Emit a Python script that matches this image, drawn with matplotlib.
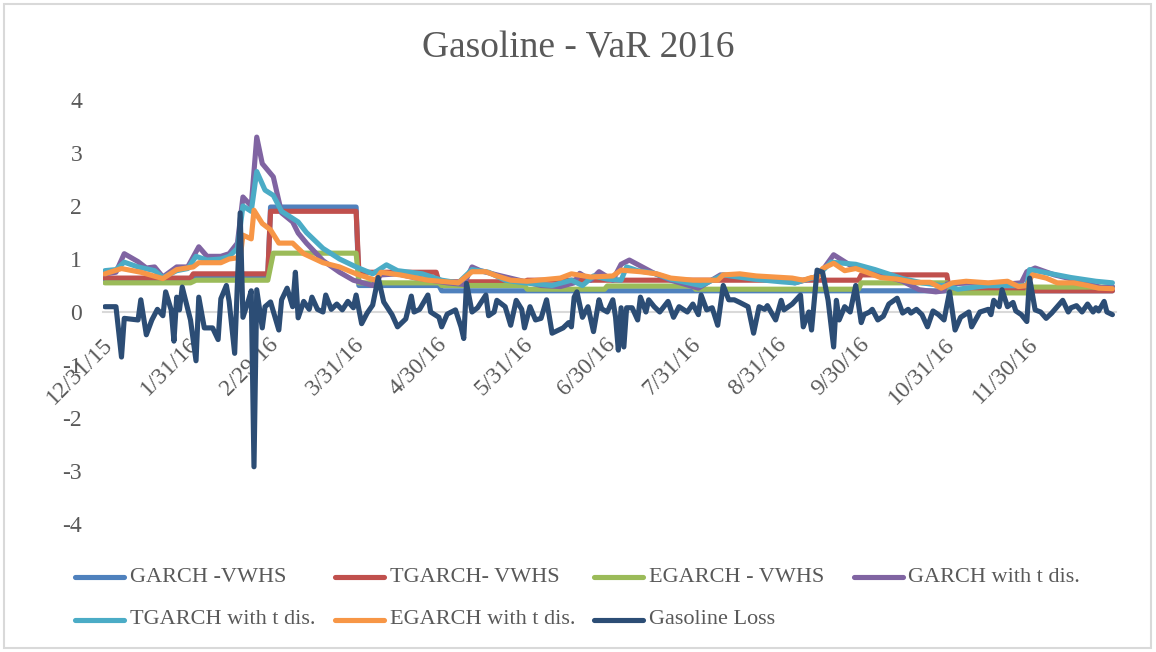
import matplotlib
matplotlib.use("Agg")
import matplotlib.pyplot as plt
import matplotlib.dates as mdates
from matplotlib.lines import Line2D
from matplotlib.patches import Rectangle
from matplotlib.transforms import ScaledTranslation
import pandas as pd

plt.rcParams['font.family'] = ['Liberation Serif', 'DejaVu Serif']

# %% Data (x = days after 12/31/15)
start = pd.Timestamp("2015-12-31")

series_names = ["GARCH -VWHS", "TGARCH- VWHS", "EGARCH - VWHS", "GARCH with t dis.",
                "TGARCH with t dis.", "EGARCH with t dis.", "Gasoline Loss"]
series_colors = ["#4F81BD", "#C0504D", "#9BBB59", "#8064A2",
                 "#4BACC6", "#F79646", "#2C4D75"]

garch_vwhs_day = [0, 31, 33, 59, 60, 91, 92, 121, 122, 365]
garch_vwhs = [0.62, 0.62, 0.68, 0.68, 1.98, 1.98, 0.50, 0.50, 0.40, 0.40]

tgarch_vwhs_day = [0, 31, 32, 59, 60, 91, 92, 120, 121, 152, 153, 273, 274, 305, 306, 365]
tgarch_vwhs = [0.64, 0.64, 0.72, 0.72, 1.90, 1.90, 0.75, 0.75, 0.57, 0.57, 0.60, 0.60,
               0.70, 0.70, 0.40, 0.40]

egarch_vwhs_day = [0, 31, 33, 59, 61, 91, 92, 121, 122, 152, 153, 181, 182, 213, 214,
                   273, 274, 305, 306, 334, 335, 365]
egarch_vwhs = [0.55, 0.55, 0.60, 0.60, 1.11, 1.11, 0.55, 0.55, 0.50, 0.50, 0.43, 0.43,
               0.49, 0.49, 0.43, 0.43, 0.55, 0.55, 0.36, 0.36, 0.47, 0.47]

garch_t_day = [0, 4, 7, 12, 15, 18, 21, 26, 30, 34,
               37, 42, 45, 48, 50, 53, 55, 57, 61, 64,
               68, 70, 73, 79, 85, 90, 97, 100, 106, 112,
               118, 124, 130, 133, 136, 142, 150, 158, 165, 170,
               172, 176, 179, 184, 187, 190, 199, 205, 215, 223,
               235, 245, 250, 257, 260, 264, 271, 275, 283, 289,
               295, 301, 304, 305, 315, 325, 332, 334, 337, 344,
               352, 361, 365]
garch_t = [0.72, 0.75, 1.10, 0.95, 0.83, 0.85, 0.66, 0.85, 0.85, 1.23,
           1.05, 1.05, 1.10, 1.30, 2.17, 2.00, 3.30, 2.80, 2.55, 1.87,
           1.70, 1.49, 1.30, 0.97, 0.75, 0.60, 0.50, 0.70, 0.72, 0.65,
           0.60, 0.55, 0.52, 0.85, 0.78, 0.70, 0.60, 0.50, 0.48, 0.55,
           0.73, 0.60, 0.76, 0.60, 0.90, 0.98, 0.73, 0.60, 0.45, 0.70,
           0.65, 0.60, 0.55, 0.65, 0.79, 1.08, 0.85, 0.80, 0.67, 0.58,
           0.42, 0.38, 0.40, 0.53, 0.55, 0.52, 0.55, 0.76, 0.83, 0.70,
           0.60, 0.46, 0.48]

tgarch_t_day = [0, 4, 7, 12, 18, 21, 26, 30, 33, 37,
                42, 45, 48, 50, 53, 55, 58, 61, 64, 70,
                73, 79, 85, 91, 97, 102, 106, 115, 122, 128,
                133, 139, 145, 152, 162, 169, 173, 177, 182, 187,
                189, 193, 199, 205, 214, 216, 224, 235, 245, 250,
                258, 263, 272, 279, 289, 296, 303, 305, 309, 320,
                334, 335, 340, 350, 359, 365]
tgarch_t = [0.78, 0.80, 0.94, 0.85, 0.78, 0.65, 0.78, 0.82, 1.05, 0.98,
            1.00, 1.05, 1.20, 2.00, 1.90, 2.65, 2.30, 2.20, 1.90, 1.70,
            1.50, 1.20, 1.00, 0.85, 0.72, 0.89, 0.78, 0.72, 0.60, 0.55,
            0.80, 0.75, 0.60, 0.55, 0.50, 0.60, 0.50, 0.68, 0.62, 0.60,
            0.85, 0.78, 0.73, 0.62, 0.52, 0.50, 0.70, 0.62, 0.57, 0.55,
            0.67, 0.94, 0.90, 0.80, 0.63, 0.55, 0.50, 0.50, 0.43, 0.50,
            0.50, 0.80, 0.75, 0.65, 0.58, 0.55]

egarch_t_day = [0, 6, 13, 21, 26, 32, 34, 42, 45, 49,
                50, 53, 54, 57, 60, 63, 68, 72, 79, 85,
                91, 98, 100, 107, 117, 128, 133, 138, 142, 147,
                153, 165, 169, 176, 184, 187, 194, 200, 205, 213,
                222, 224, 230, 236, 249, 253, 256, 258, 260, 264,
                268, 272, 276, 281, 287, 293, 299, 303, 307, 312,
                320, 327, 331, 334, 336, 341, 345, 351, 356, 360,
                365]
egarch_t = [0.72, 0.82, 0.75, 0.63, 0.80, 0.85, 0.93, 0.93, 1.00, 1.03,
            1.45, 1.38, 1.92, 1.67, 1.55, 1.30, 1.30, 1.10, 0.93, 0.85,
            0.72, 0.60, 0.75, 0.70, 0.60, 0.55, 0.76, 0.76, 0.68, 0.60,
            0.58, 0.64, 0.72, 0.66, 0.68, 0.79, 0.76, 0.72, 0.64, 0.60,
            0.60, 0.70, 0.72, 0.68, 0.64, 0.60, 0.65, 0.64, 0.82, 0.92,
            0.78, 0.82, 0.75, 0.65, 0.62, 0.56, 0.56, 0.45, 0.55, 0.58,
            0.55, 0.58, 0.48, 0.50, 0.70, 0.64, 0.55, 0.55, 0.50, 0.45,
            0.44]

loss_day = [0, 4, 6, 7, 12, 13, 15, 17, 19, 21,
            22, 24, 25, 26, 27, 28, 31, 33, 34, 36,
            39, 41, 42, 44, 45, 47, 49, 50, 52, 53,
            54, 55, 57, 58, 60, 63, 64, 66, 68, 69,
            70, 72, 74, 75, 77, 79, 80, 82, 84, 86,
            88, 90, 91, 93, 95, 97, 99, 101, 104, 106,
            109, 111, 112, 114, 117, 118, 121, 122, 124, 127,
            129, 130, 131, 133, 135, 138, 139, 141, 142, 145,
            147, 149, 151, 152, 154, 156, 158, 160, 162, 164,
            166, 168, 169, 170, 171, 173, 175, 177, 179, 180,
            182, 184, 185, 186, 187, 188, 189, 191, 193, 194,
            196, 197, 199, 201, 204, 206, 208, 211, 213, 215,
            216, 218, 220, 222, 224, 226, 228, 230, 233, 235,
            237, 239, 240, 243, 245, 246, 249, 252, 253, 255,
            256, 258, 260, 262, 264, 265, 266, 268, 270, 272,
            274, 275, 277, 278, 280, 282, 284, 287, 289, 291,
            292, 294, 296, 298, 300, 302, 304, 306, 308, 310,
            313, 314, 317, 320, 321, 322, 324, 325, 327, 329,
            330, 332, 334, 335, 337, 339, 341, 343, 345, 347,
            349, 350, 352, 354, 356, 358, 359, 360, 362, 363,
            365]
loss_val = [0.10, 0.10, -0.85, -0.12, -0.15, 0.23, -0.43, -0.15, 0.05, -0.07,
            0.38, 0.04, -0.55, 0.28, 0.04, 0.47, -0.15, -0.92, 0.28, -0.30,
            -0.30, -0.52, 0.25, 0.50, 0.20, -0.78, 1.87, -0.10, 0.22, 0.40,
            -2.92, 0.42, -0.30, 0.10, 0.19, -0.34, 0.23, 0.45, 0.10, 0.75,
            -0.11, 0.20, 0.05, 0.28, 0.05, 0.00, 0.32, 0.05, 0.15, 0.04,
            0.20, 0.08, 0.32, -0.22, -0.02, 0.13, 0.65, 0.19, -0.05, -0.28,
            -0.13, 0.30, 0.00, 0.05, 0.32, 0.00, -0.10, -0.28, -0.04, 0.04,
            -0.28, -0.50, 0.54, 0.00, 0.08, 0.32, -0.07, 0.00, 0.22, 0.10,
            -0.25, 0.22, 0.05, -0.30, 0.10, -0.15, -0.12, 0.23, -0.40, -0.35,
            -0.30, -0.20, -0.28, 0.28, 0.38, -0.10, 0.10, -0.37, 0.23, 0.06,
            0.00, 0.23, -0.10, -0.72, 0.08, -0.66, 0.08, 0.08, -0.15, 0.28,
            0.00, 0.23, 0.10, 0.00, 0.20, -0.10, 0.10, 0.00, 0.15, -0.05,
            0.32, 0.04, 0.08, -0.25, 0.50, 0.23, 0.23, 0.18, 0.10, -0.40,
            0.10, 0.05, 0.12, -0.15, 0.22, 0.04, 0.15, 0.32, -0.28, 0.00,
            -0.34, 0.79, 0.75, 0.22, -0.66, 0.22, -0.15, 0.10, 0.00, 0.50,
            -0.20, -0.05, 0.00, 0.05, -0.15, -0.08, 0.15, 0.26, -0.02, 0.05,
            -0.02, 0.05, -0.05, -0.28, 0.02, -0.05, -0.15, 0.38, -0.34, -0.10,
            0.00, -0.28, 0.00, 0.05, -0.05, 0.22, 0.10, 0.42, 0.10, 0.18,
            0.02, -0.05, -0.18, 0.64, 0.04, 0.00, -0.12, -0.02, 0.10, 0.22,
            0.00, 0.08, 0.12, 0.00, 0.15, 0.00, 0.08, 0.02, 0.20, 0.00,
            -0.05]

y_ticks = [-4, -3, -2, -1, 0, 1, 2, 3, 4]
tick_dates = pd.date_range("2015-12-31", "2016-11-30", freq="ME")

all_series = [(garch_vwhs_day, garch_vwhs), (tgarch_vwhs_day, tgarch_vwhs),
              (egarch_vwhs_day, egarch_vwhs), (garch_t_day, garch_t),
              (tgarch_t_day, tgarch_t), (egarch_t_day, egarch_t),
              (loss_day, loss_val)]


def to_dates(days):
    return start + pd.to_timedelta(days, unit="D")


# %% Plot
W, H = 1156, 652
text_gray = "#595959"
fig = plt.figure(figsize=(W / 100, H / 100), dpi=100)
ax = fig.add_axes([103 / W, 1 - 524 / H, (1116 - 103) / W, (524 - 100) / H])

for (days, vals), name, col in zip(all_series, series_names, series_colors):
    ax.plot(to_dates(days), vals, color=col, lw=3.7, label=name, zorder=3,
            solid_joinstyle="round", solid_capstyle="round")

ax.set_xlim(mdates.date2num(start) - 0.7, mdates.date2num(start) + 366.3)
ax.set_ylim(-4, 4)
ax.set_yticks(y_ticks)
ax.set_yticklabels([str(v) for v in y_ticks])
ax.set_xticks(tick_dates)
ax.set_xticklabels([f"{d.month}/{d.day}/{d.strftime('%y')}" for d in tick_dates])

for s in ["top", "right", "left"]:
    ax.spines[s].set_visible(False)
ax.spines["bottom"].set_position(("data", 0))
ax.spines["bottom"].set_color("#D9D9D9")
ax.spines["bottom"].set_linewidth(1.5)
ax.spines["bottom"].set_zorder(0)

ax.tick_params(axis="y", length=0, pad=15, labelsize=17, labelcolor=text_gray)
ax.tick_params(axis="x", length=0, pad=21, labelsize=17, labelcolor=text_gray)
shift = ScaledTranslation(5 / 100, 0, fig.dpi_scale_trans)
for lab in ax.get_xticklabels():
    lab.set_rotation(45)
    lab.set_ha("right")
    lab.set_va("center")
    lab.set_rotation_mode("anchor")
    lab.set_transform(lab.get_transform() + shift)

fig.text(0.5, 1 - 48 / H, "Gasoline - VaR 2016", ha="center", va="center",
         fontsize=27, color=text_gray)

# legend, 4 per row like Excel
for i, (name, col) in enumerate(zip(series_names, series_colors)):
    x0 = 75 + 259.5 * (i % 4)
    y0 = 577 + 43 * (i // 4)
    fig.add_artist(Line2D([x0 / W, (x0 + 49) / W], [1 - y0 / H, 1 - y0 / H],
                          color=col, lw=3.7, solid_capstyle="round",
                          transform=fig.transFigure))
    fig.text((x0 + 55) / W, 1 - y0 / H, name, ha="left", va="center",
             fontsize=16, color=text_gray)

fig.add_artist(Rectangle((4 / W, 4 / H), (1151 - 4) / W, (648 - 4) / H,
                         transform=fig.transFigure, fill=False,
                         edgecolor="#D9D9D9", lw=1.5))

fig.savefig("out.png", dpi=100)
